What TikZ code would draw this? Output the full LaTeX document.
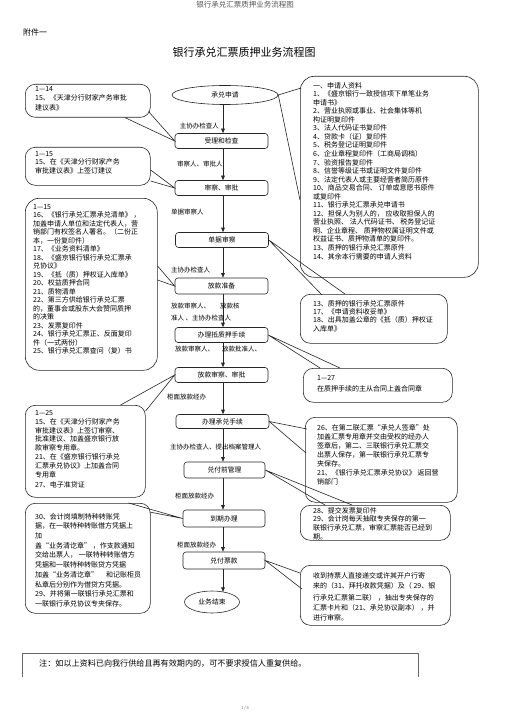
\documentclass[tikz,border=0pt]{standalone}
\usepackage{fontspec}
\setmainfont{Noto Sans CJK SC}
\usetikzlibrary{arrows.meta,calc,shapes.geometric}
\begin{document}
\begin{tikzpicture}[x=1pt,y=-1pt,
  flowbox/.style={draw=black!85, line width=0.6pt, rounded corners=3pt, minimum width=93pt, minimum height=15pt, inner sep=0pt, font=\fontsize{6.8}{8}\selectfont},
  flowell/.style={draw=black!85, ellipse, line width=0.6pt, inner sep=0pt, font=\fontsize{6.8}{8}\selectfont},
  arr/.style={draw=black!85, line width=0.6pt, -{Triangle[length=4.5pt,width=3.6pt]}},
  lab/.style={font=\fontsize{6.5}{7.5}\selectfont, inner sep=0pt, align=left},
  callout/.style={draw=black!85, line width=0.6pt, rounded corners=10pt, inner sep=0pt, anchor=north west},
  ctext/.style={inner sep=0pt, align=left, anchor=north west},
  ptr/.style={draw=black!85, line width=0.6pt},
]
\fill[white] (0,0) rectangle (505,714);
\useasboundingbox (0,0) rectangle (505,714);

% header and title
\node[font=\fontsize{7.5}{9}\selectfont, text=black!65] (hdr) at (245,5) {银行承兑汇票质押业务流程图};
\node[font=\fontsize{8}{9}\selectfont, anchor=west, inner sep=0pt] (att) at (23,32) {附件一};
\node[font=\fontsize{11}{13}\selectfont] (title) at (244,52) {银行承兑汇票质押业务流程图};

% main flow
\coordinate (ax) at (223,0);
\node[flowell, minimum width=106pt, minimum height=19pt] (e1) at (225,95) {承兑申请};
\node[flowbox] (n1) at (221.5,141) {受理和检查};
\node[flowbox] (n2) at (221.5,188) {审察、审批};
\node[flowbox] (n3) at (222,240) {单据审察};
\node[flowbox, minimum height=16pt] (n4) at (221.5,286) {放款准备};
\node[flowbox] (n5) at (221.5,335) {办理抵质押手续};
\node[flowbox] (n6) at (221.5,375) {放款审察、审批};
\node[flowbox, minimum height=14pt] (n7) at (222.5,421.5) {办理承兑手续};
\node[flowbox, minimum width=81pt, minimum height=16pt] (n8) at (224.5,470) {兑付前管理};
\node[flowbox, minimum width=82pt, minimum height=17pt] (n9) at (224,518.5) {到期办理};
\node[flowbox, minimum width=82pt, minimum height=17pt] (n10) at (224,560.5) {兑付票款};
\node[flowell, minimum width=55pt, minimum height=22pt] (e2) at (212,602) {业务结束};

\draw[arr] (e1.south -| ax) -- (n1.north -| ax);
\draw[arr] (n1.south -| ax) -- (n2.north -| ax);
\draw[arr] (n2.south -| ax) -- (n3.north -| ax);
\draw[arr] (n3.south -| ax) -- (n4.north -| ax);
\draw[arr] (n4.south -| ax) -- (n5.north -| ax);
\draw[arr] (n5.south -| ax) -- (n6.north -| ax);
\draw[arr] (n6.south -| ax) -- (n7.north -| ax);
\draw[arr] (n7.south -| ax) -- (n8.north -| ax);
\draw[arr] (n8.south -| ax) -- (n9.north -| ax);
\draw[arr] (n9.south -| ax) -- (n10.north -| ax);
\draw[arr] (n10.south -| ax) -- ($(ax |- e2.north)+(0,1.2)$);

% arrow labels
\node[lab, anchor=east] (l1) at (219,126) {主协办检查人};
\node[lab, anchor=west] (l2) at (177,164) {审察人、审批人};
\node[lab, anchor=west] (l3) at (171,212) {单据审察人};
\node[lab, anchor=west] (l4) at (171,270) {主协办检查人};
\node[lab, anchor=north west, font=\fontsize{6.5}{12}\selectfont] (l5) at (171,302.5) {放款审察人、\hspace{10pt}放款核\\准人 、主协办检查人};
\node[lab, anchor=west] (l6) at (175,349) {放款审察人、\hspace{8pt}放款批准人、};
\node[lab, anchor=west] (l7) at (167,397) {柜面放款经办};
\node[lab, anchor=west] (l8) at (170,447) {主协办检查人、提出档案管理人};
\node[lab, anchor=west] (l9) at (175,496) {柜面放款经办};
\node[lab, anchor=west] (l10) at (177,545) {柜面放款经办};

% left callouts
\node[callout, minimum width=125pt, minimum height=33pt] (cA) at (25,84) {};
\node[ctext, font=\fontsize{7}{9.5}\selectfont] (tA) at (35,86) {1—14\\15、《天津分行财家产务审批\\建议表》};
\draw[ptr] ($(cA.south west)+(100,0)$) -- (n1.west) -- ($(cA.south east)+(-2,-6)$);

\node[callout, minimum width=125pt, minimum height=38pt] (cB) at (25,147) {};
\node[ctext, font=\fontsize{7}{8.8}\selectfont] (tB) at (35,151) {1—15\\15、在《天津分行财家产务\\审批建议表》上签订建议};
\draw[ptr] ($(cB.north east)+(0,23)$) -- (n2.west) -- ($(cB.north east)+(0,34)$);

\node[callout, rounded corners=14pt, minimum width=132pt, minimum height=172pt] (cC) at (25,198) {};
\node[ctext, font=\fontsize{7}{8.5}\selectfont] (tC) at (33,204) {1—15\\16、《银行承兑汇票承兑清单》 ，\\加盖申请人单位和法定代表人，营\\销部门有权签名人署名。（二份正\\本，一份复印件）\\17、《业务资料清单》\\18、《盛京银行银行承兑汇票承\\兑协议》\\19、《抵（质）押权证入库单》\\20、权益质押合同\\21、质物清单\\22、第三方供给银行承兑汇票\\的，董事会或股东大会赞同质押\\的决策\\23、发票复印件\\24、银行承兑汇票正、反面复印\\件（一式两份）\\25、银行承兑汇票查问（复）书};
\draw[ptr] ($(cC.north east)+(0,68)$) -- (n4.west) -- ($(cC.north east)+(0,82)$);

\node[callout, minimum width=120pt, minimum height=92pt] (cD) at (25,405) {};
\node[ctext, font=\fontsize{7}{8.9}\selectfont] (tD) at (35,410) {1—25\\15、在《天津分行财家产务\\审批建议表》上签订审察、\\批准建议、加盖盛京银行放\\款审察专用章。\\21、在《盛京银行银行承兑\\汇票承兑协议》上加盖合同\\专用章\\[1.5pt]27、电子准贷证};
\draw[ptr] ($(cD.north east)+(-25,0)$) -- (n6.west) -- ($(cD.north east)+(0,6)$);

\node[callout, minimum width=125pt, minimum height=110pt] (cE) at (25,503) {};
\node[ctext, font=\fontsize{7}{9.7}\selectfont] (tE) at (35,513) {30、会计岗填制特种转账凭\\据，在一联特种转账借方凭据上\\加\\盖“业务清讫章”  ，作支款通知\\交给出票人，  一联特种转账借方\\凭据和一联特种转账贷方凭据\\加盖“业务清讫章”\hspace{8pt}和记账柜员\\私章后分别作为借贷方凭据。\\29、并将第一联银行承兑汇票和\\一联银行承兑协议专夹保存。};
\draw[ptr] ($(cE.north east)+(-22,0)$) -- (n9.west) -- ($(cE.north east)+(-1,9)$);

% right callouts
\node[callout, rounded corners=14pt, minimum width=178pt, minimum height=201pt] (cR1) at (300,76) {};
\node[ctext, font=\fontsize{7}{8.55}\selectfont] (tR1) at (313,82) {一、申请人资料\\1、《盛京银行一致授信项下单笔业务\\申请书》\\2、营业执照或事业、社会集体等机\\构证明复印件\\3、法人代码证书复印件\\4、贷款卡（证）复印件\\5、税务登记证明复印件\\6、企业章程复印件（工商局调档）\\7、验资报告复印件\\8、信誉等级证书或证明文件复印件\\9、法定代表人或主要经营者简历原件\\10、商品交易合同、 订单或意愿书原件\\或复印件\\11、银行承兑汇票承兑申请书\\12、担保人为别人的，  应收取担保人的\\营业执照、 法人代码证书、 税务登记证\\明、企业章程、 质押物权属证明文件或\\权益证书、质押物清单的复印件。\\13、质押的银行承兑汇票原件\\14、其余本行需要的申请人资料};
\draw[ptr] ($(cR1.north west)+(1,12)$) -- (e1.east) -- ($(cR1.north west)+(0,124)$);

\node[callout, minimum width=147pt, minimum height=49pt] (cR2) at (300,294) {};
\node[ctext, font=\fontsize{7}{8.4}\selectfont] (tR2) at (313,300) {13、质押的银行承兑汇票原件\\17、《申请资料收妥单》\\18、出具加盖公章的《抵（质）押权证\\入库单》};
\draw[ptr] ($(cR2.north west)+(22,1)$) -- (n3.east) -- ($(cR2.north west)+(45,0)$);

\node[callout, minimum width=149pt, minimum height=34pt] (cR3) at (303,368) {};
\node[ctext, font=\fontsize{7}{11}\selectfont] (tR3) at (317,375) {1—27\\在质押手续的主从合同上盖合同章};
\draw[ptr] ($(cR3.north west)+(17,0)$) -- (n5.east) -- ($(cR3.north west)+(37,0)$);

\node[callout, minimum width=152pt, minimum height=85pt] (cR4) at (305,417) {};
\node[ctext, font=\fontsize{7}{9}\selectfont] (tR4) at (317,424.5) {26、在第二联汇票“承兑人签章”处\\加盖汇票专用章并交由受权的经办人\\签章后，第二、三联银行承兑汇票交\\出票人保存，第一联银行承兑汇票专\\夹保存。\\21、《银行承兑汇票承兑协议》 返回营\\销部门};
\draw[ptr] ($(cR4.north west)+(2,12)$) -- (n7.east) -- ($(cR4.north west)+(1,36)$);

\node[callout, minimum width=150pt, minimum height=35pt] (cR5) at (300,505) {};
\node[ctext, font=\fontsize{7}{8.7}\selectfont] (tR5) at (313,507) {28、提交发票复印件\\29、会计岗每天抽取专夹保存的第一\\联银行承兑汇票，审察汇票能否已经到\\期。};
\draw[ptr] ($(cR5.north west)+(25,0)$) -- (n8.east) -- ($(cR5.north west)+(52,0)$);

\node[callout, minimum width=150pt, minimum height=60pt] (cR6) at (300,565) {};
\node[ctext, font=\fontsize{7}{10}\selectfont] (tR6) at (313,572) {收到持票人直接递交或许其开户行寄\\来的（31、拜托收款凭据）及（  29、银\\[2pt]行承兑汇票第二联）  ，抽出专夹保存的\\汇票卡片和（21、承兑协议副本）  ，并\\进行审察。};
\draw[ptr] ($(cR6.north west)+(0,8)$) -- (n10.east) -- ($(cR6.north west)+(2,24)$);

% note
\draw[black!60, line width=0.5pt] (22,677) -- (22,653) -- (418,653) -- (418,677);
\node[font=\fontsize{8.1}{10}\selectfont, anchor=west, inner sep=0pt] (note) at (39,664) {注：如以上资料已向我行供给且再有效期内的，可不要求授信人重复供给。};

\node[font=\fontsize{4}{5}\selectfont, text=black!60] (ftr) at (245,708) {1 / 4};
\end{tikzpicture}
\end{document}
